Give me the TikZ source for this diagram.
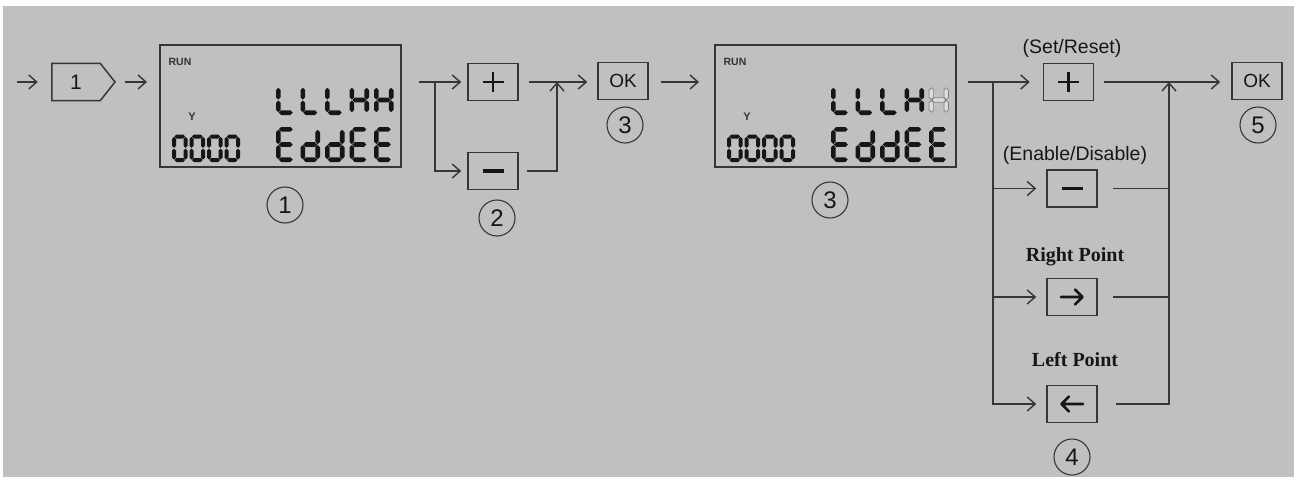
\documentclass[tikz,border=0pt]{standalone}
\usepackage{fontspec}
\setmainfont{Liberation Sans}
\newfontfamily\tnr{Liberation Serif}
\usetikzlibrary{arrows.meta}
\definecolor{bg}{HTML}{C0C0C0}
\definecolor{ln}{HTML}{363636}
\definecolor{ink}{HTML}{161616}
% seven-segment glyph helpers
\newcommand\setglyph[3]{\def\qt{#3}\def\qg{0.45}%
  \pgfmathsetmacro\qL{#3/2}\pgfmathsetmacro\qR{#1-#3/2}%
  \pgfmathsetmacro\qT{#3/2}\pgfmathsetmacro\qB{#2-#3/2}\pgfmathsetmacro\qM{#2/2}}
\newcommand\hs[3]{\path[seg] (#1,#3) -- ({#1+\qt/2},{#3-\qt/2}) -- ({#2-\qt/2},{#3-\qt/2}) -- (#2,#3) -- ({#2-\qt/2},{#3+\qt/2}) -- ({#1+\qt/2},{#3+\qt/2}) -- cycle;}
\newcommand\vs[3]{\path[seg] (#1,#2) -- ({#1+\qt/2},{#2+\qt/2}) -- ({#1+\qt/2},{#3-\qt/2}) -- (#1,#3) -- ({#1-\qt/2},{#3-\qt/2}) -- ({#1-\qt/2},{#2+\qt/2}) -- cycle;}
\def\segA{\hs{\qL+\qg}{\qR-\qg}{\qT}}
\def\segB{\vs{\qR}{\qT+\qg}{\qM-\qg}}
\def\segC{\vs{\qR}{\qM+\qg}{\qB-\qg}}
\def\segD{\hs{\qL+\qg}{\qR-\qg}{\qB}}
\def\segE{\vs{\qL}{\qM+\qg}{\qB-\qg}}
\def\segF{\vs{\qL}{\qT+\qg}{\qM-\qg}}
\def\segG{\hs{\qL+\qg}{\qR-\qg}{\qM}}
\newcommand\glyph[3]{\begin{scope}[shift={(#1,#2)}]\foreach \s in {#3}{\csname seg\s\endcsname}\end{scope}}
% LCD contents: #1 left x of box, #2 name suffix, #3 code for last glyph of row 1
\newcommand\lcdbody[3]{%
  \node[runf] (run#2) at (#1+20,62) {RUN};
  \node[yf] (y#2) at (#1+32,117) {Y};
  \setglyph{19.5}{30}{4.6}%
  \glyph{#1+116}{85}{D,E,F}
  \glyph{#1+140.5}{85}{D,E,F}
  \glyph{#1+165}{85}{D,E,F}
  \glyph{#1+189.5}{85}{B,C,E,F,G}
  #3
  \setglyph{19.5}{35}{4.6}%
  \glyph{#1+116}{127}{A,D,E,F,G}
  \glyph{#1+140.5}{127}{B,C,D,E,G}
  \glyph{#1+165}{127}{B,C,D,E,G}
  \glyph{#1+189.5}{127}{A,D,E,F,G}
  \glyph{#1+214}{127}{A,D,E,F,G}
  \setglyph{15.5}{27.5}{4}%
  \glyph{#1+12}{134.5}{A,B,C,D,E,F}
  \glyph{#1+29.5}{134.5}{A,B,C,D,E,F}
  \glyph{#1+47}{134.5}{A,B,C,D,E,F}
  \glyph{#1+64.5}{134.5}{A,B,C,D,E,F}
}
\begin{document}
\begin{tikzpicture}[x=1pt,y=-1pt,
  seg/.style={fill=ink},
  faint/.style={seg/.style={draw=black!50,fill=bg!55!white,line width=0.7pt}},
  conn/.style={draw=ln,line width=1.4pt},
  arr/.style={conn,-{Straight Barb[length=8pt,width=14pt]}},
  boxline/.style={draw=ln,line width=1.5pt},
  btn/.style={rectangle,boxline,inner sep=0pt,minimum width=50pt,minimum height=37pt,text=ink,font=\fontsize{19}{19}\selectfont},
  plusb/.style={btn,path picture={\draw[ink,line width=2.8pt]
      ([xshift=-10.5pt]path picture bounding box.center) -- ([xshift=10.5pt]path picture bounding box.center)
      ([yshift=-10pt]path picture bounding box.center) -- ([yshift=10pt]path picture bounding box.center);}},
  minusb/.style={btn,path picture={\draw[ink,line width=3.2pt]
      ([xshift=-10.5pt]path picture bounding box.center) -- ([xshift=10.5pt]path picture bounding box.center);}},
  rightb/.style={btn,path picture={\draw[ink,line width=2.7pt,line cap=round,line join=round]
      ([xshift=-11pt]path picture bounding box.center) -- ([xshift=10.5pt]path picture bounding box.center)
      ([xshift=3pt,yshift=7.5pt]path picture bounding box.center) -- ([xshift=10.5pt]path picture bounding box.center) -- ([xshift=3pt,yshift=-7.5pt]path picture bounding box.center);}},
  leftb/.style={btn,path picture={\draw[ink,line width=2.7pt,line cap=round,line join=round]
      ([xshift=11pt]path picture bounding box.center) -- ([xshift=-10.5pt]path picture bounding box.center)
      ([xshift=-3pt,yshift=7.5pt]path picture bounding box.center) -- ([xshift=-10.5pt]path picture bounding box.center) -- ([xshift=-3pt,yshift=-7.5pt]path picture bounding box.center);}},
  lcd/.style={rectangle,draw=ln,line width=1.9pt,minimum width=241pt,minimum height=122pt,inner sep=0pt},
  num/.style={circle,draw=ln,line width=1.1pt,minimum size=36pt,inner sep=0pt,text=ink,font=\fontsize{24}{24}\selectfont},
  lbl/.style={text=ink,font=\fontsize{19.5}{20}\selectfont,inner sep=0pt},
  lblb/.style={text=ink,font=\tnr\bfseries\fontsize{20}{20}\selectfont,inner sep=0pt},
  runf/.style={text=black!80,font=\bfseries\fontsize{10.5}{11}\selectfont,inner sep=0pt},
  yf/.style={text=black!80,font=\bfseries\fontsize{11}{11}\selectfont,inner sep=0pt},
  onef/.style={text=ink,font=\fontsize{21}{21}\selectfont,minimum width=48pt,minimum height=37pt,inner sep=0pt}
]
\useasboundingbox (0,0) rectangle (1294,477);
\fill[white] (0,0) rectangle (1294,477);
\fill[bg] (3,6) rectangle (1294,477);

% step 1 tag
\coordinate (s0) at (17,82);
\node[onef] (b1) at (76,82) {1};
\coordinate (b1t) at (115,82);
\draw[boxline] (b1.north west) -- (b1.north east) -- (b1t) -- (b1.south east) -- (b1.south west) -- cycle;

% LCDs
\node[lcd] (lcd1) at (280.5,106) {};
\node[lcd] (lcd2) at (835.5,106) {};
\lcdbody{160}{1}{\glyph{160+214}{85}{B,C,E,F,G}}
\lcdbody{715}{2}{\begin{scope}[faint]\glyph{715+214}{85}{B,C,E,F,G}\end{scope}}

% buttons
\node[plusb] (p1) at (493,82) {};
\node[minusb] (m1) at (493,171) {};
\node[btn] (ok1) at (623,81) {OK};
\node[plusb] (p2) at (1068.5,82) {};
\node[minusb] (m2) at (1072,188.5) {};
\node[rightb] (rb) at (1072,297) {};
\node[leftb] (lb) at (1072,404) {};
\node[btn] (ok2) at (1257,81) {OK};

% labels
\node[lbl] (t1) at (1072,48) {(Set/Reset)};
\node[lbl] (t2) at (1075,155) {(Enable/Disable)};
\node[lblb] (t3) at (1075,257) {Right Point};
\node[lblb] (t4) at (1075,360) {Left Point};

% step numbers
\node[num] (c1) at (285,205) {1};
\node[num] (c2) at (497,218) {2};
\node[num] (c3a) at (625,125) {3};
\node[num] (c3b) at (830,200) {3};
\node[num] (c4) at (1072,457) {4};
\node[num] (c5) at (1258,125) {5};

% connectors
\draw[arr,shorten >=14pt] (s0) -- (b1.west);
\draw[arr,shorten <=10pt,shorten >=12pt] (b1t) -- (lcd1.west |- b1t);
\draw[arr,shorten <=17pt,shorten >=6pt] (lcd1.east |- p1.west) -- (p1.west);
\coordinate (j1) at (435,82);
\draw[arr,shorten >=6pt] (j1) |- (m1.west);
\draw[arr,shorten <=10pt,shorten >=10pt] (p1.east) -- (ok1.west |- p1.east);
\coordinate (j2) at (557,82);
\draw[arr,shorten <=8pt] (m1.east) -| (j2);
\draw[arr,shorten <=12pt,shorten >=15pt] (ok1.east |- j2) -- (lcd2.west |- j2);
\draw[arr,shorten <=11pt,shorten >=13pt] (lcd2.east |- p2.west) -- (p2.west);
\coordinate (j3) at (993,82);
\draw[arr,shorten >=10pt] (j3) |- (m2.west);
\draw[arr,shorten >=10pt] (j3) |- (rb.west);
\draw[arr,shorten >=10pt] (j3) |- (lb.west);
\draw[arr,shorten <=10pt,shorten >=11pt] (p2.east) -- (ok2.west |- p2.east);
\coordinate (j4) at (1169,82);
\draw[arr,shorten <=18pt] (lb.east) -| (j4);
\draw[conn,shorten <=15pt] (m2.east) -- (m2.east -| j4);
\draw[conn,shorten <=15pt] (rb.east) -- (rb.east -| j4);
\end{tikzpicture}
\end{document}
